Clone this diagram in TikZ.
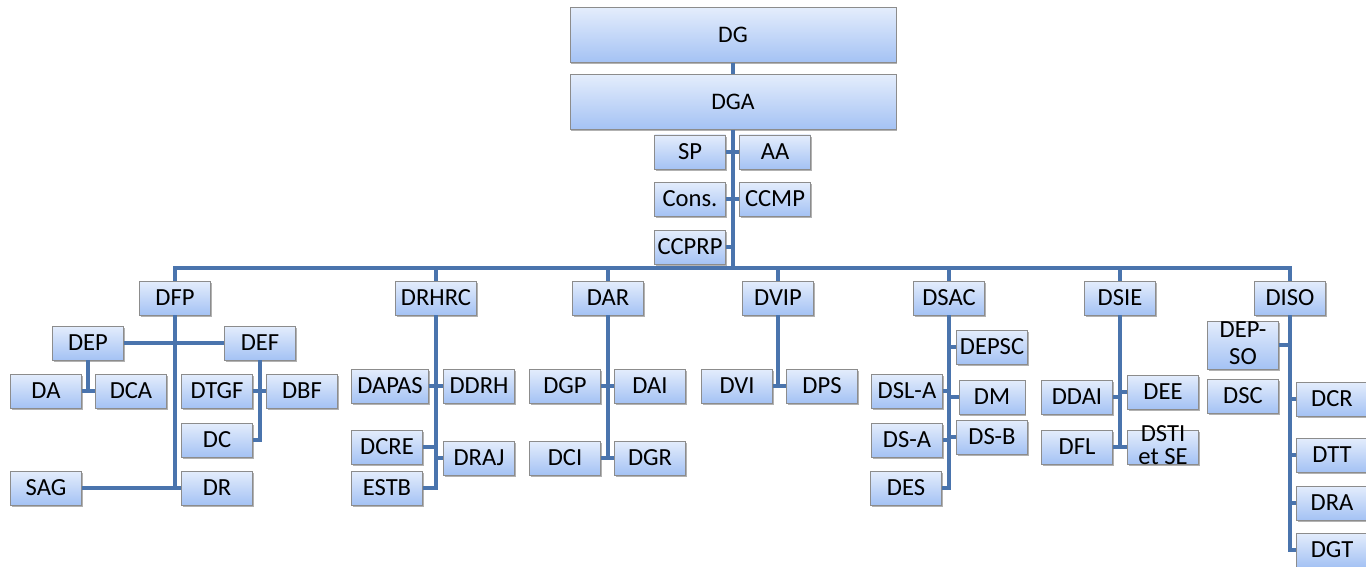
\documentclass[tikz,border=0pt]{standalone}
\usepackage{fontspec}
\setmainfont{Carlito}
\usetikzlibrary{shadows}
\definecolor{linkblue}{RGB}{74,116,173}
\definecolor{boxtop}{RGB}{228,237,252}
\definecolor{boxbot}{RGB}{164,194,244}
\definecolor{boxrim}{RGB}{140,140,140}
\tikzset{
	box/.style={draw=boxrim,line width=0.5pt,top color=boxtop,bottom color=boxbot,
		minimum width=1.42cm,minimum height=0.68cm,inner sep=0pt,
		font=\fontsize{14}{15.5}\selectfont,
		drop shadow={shadow xshift=0.8pt,shadow yshift=-1pt,opacity=0.55,fill=black!55}},
	wide/.style={minimum width=6.52cm,minimum height=1.1cm,font=\fontsize{13.5}{15}\selectfont},
	conn/.style={draw=linkblue,line width=2.3pt,line join=miter}
}

\begin{document}
\begin{tikzpicture}[x=0.02cm,y=-0.02cm]
	\useasboundingbox (0,0) rectangle (1366,567);

	\node[box,wide] at (733,35)(dg){DG};
	\node[box,wide] at (733,102)(dga){DGA};
	\node[box] at (690,152)(sp){SP};
	\node[box] at (775,152)(aa){AA};
	\node[box] at (690,199)(cons){Cons.};
	\node[box] at (775,199)(ccmp){CCMP};
	\node[box] at (690,247)(ccprp){CCPRP};
	\coordinate (bus) at (733,268);

	\node[box] at (175,298)(dfp){DFP};
	\node[box,minimum width=1.62cm] at (436,298)(drhrc){DRHRC};
	\node[box] at (608,298)(dar){DAR};
	\node[box] at (778,298)(dvip){DVIP};
	\node[box] at (949,298)(dsac){DSAC};
	\node[box] at (1120,298)(dsie){DSIE};
	\node[box] at (1290,298)(diso){DISO};

	\node[box] at (88,343)(dep){DEP};
	\node[box] at (260,343)(def){DEF};
	\node[box] at (46,391)(da){DA};
	\node[box] at (131,391)(dca){DCA};
	\node[box] at (217,391)(dtgf){DTGF};
	\node[box] at (302,391)(dbf){DBF};
	\node[box] at (217,440)(dc){DC};
	\node[box] at (46,488)(sag){SAG};
	\node[box] at (217,488)(dr){DR};

	\node[box,minimum width=1.54cm] at (390,386)(dapas){DAPAS};
	\node[box] at (479,386)(ddrh){DDRH};
	\node[box] at (387,447)(dcre){DCRE};
	\node[box] at (479,458)(draj){DRAJ};
	\node[box] at (387,488)(estb){ESTB};

	\node[box] at (565,386)(dgp){DGP};
	\node[box] at (650,386)(dai){DAI};
	\node[box] at (565,458)(dci){DCI};
	\node[box] at (650,458)(dgr){DGR};

	\node[box] at (737,386)(dvi){DVI};
	\node[box] at (822,386)(dps){DPS};

	\node[box] at (992,347)(depsc){DEPSC};
	\node[box] at (907,391)(dsla){DSL-A};
	\node[box,minimum width=1.32cm] at (992,397)(dm){DM};
	\node[box] at (907,440)(dsa){DS-A};
	\node[box] at (992,437)(dsb){DS-B};
	\node[box] at (906,488)(des){DES};

	\node[box] at (1077,397)(ddai){DDAI};
	\node[box] at (1163,392)(dee){DEE};
	\node[box] at (1077,447)(dfl){DFL};
	\node[box] at (1163,447)(dsti){\smash{\raisebox{-4pt}{\begin{tabular}[c]{@{}c@{}}DSTI\\[-2.5pt]et SE\end{tabular}}}};

	\node[box,minimum height=0.96cm] at (1243,345)(depso){\smash{\raisebox{-4pt}{\begin{tabular}[c]{@{}c@{}}DEP-\\SO\end{tabular}}}};
	\node[box] at (1243,396)(dsc){DSC};
	\node[box] at (1332,399)(dcr){DCR};
	\node[box] at (1332,455)(dtt){DTT};
	\node[box] at (1332,503)(dra){DRA};
	\node[box] at (1332,550)(dgt){DGT};

	\path[conn] (dg)--(dga) (dga.south)--(bus)
		(sp.east)--(aa.west) (cons.east)--(ccmp.west) (ccprp.east)--(ccprp.east-|bus);
	\path[conn] (dfp.north)--(dfp|-bus)--(diso|-bus)--(diso.north)
		(drhrc.north)--(drhrc|-bus) (dar.north)--(dar|-bus) (dvip.north)--(dvip|-bus)
		(dsac.north)--(dsac|-bus) (dsie.north)--(dsie|-bus);

	\path[conn] (dfp.south)--(dfp|-sag) (sag.east)--(dr.west) (dep.east)--(def.west)
		(dep.south)--(dep|-da) (da.east)--(dca.west)
		(def.south)--(def|-dc)--(dc.east) (dtgf.east)--(dbf.west);
	\path[conn] (drhrc.south)--(drhrc|-estb)--(estb.east) (dapas.east)--(ddrh.west)
		(dcre.east)--(dcre-|drhrc) (draj.west)--(draj-|drhrc);
	\path[conn] (dar.south)--(dar|-dci) (dgp.east)--(dai.west) (dci.east)--(dgr.west);
	\path[conn] (dvip.south)--(dvip|-dvi) (dvi.east)--(dps.west);
	\path[conn] (dsac.south)--(dsac|-des)--(des.east) (depsc.west)--(depsc-|dsac)
		(dsla.east)--(dsla-|dsac) (dm.west)--(dm-|dsac)
		(dsa.east)--(dsa-|dsac) (dsb.west)--(dsb-|dsac);
	\path[conn] (dsie.south)--(dsie|-dfl) (ddai.east)--(ddai-|dsie)
		(dee.west)--(dee-|dsie) (dfl.east)--(dsti.west);
	\path[conn] (diso.south)--(diso|-dgt)--(dgt.west) (depso.east)--(depso-|diso)
		(dcr.west)--(dcr-|diso) (dtt.west)--(dtt-|diso) (dra.west)--(dra-|diso);
\end{tikzpicture}
\end{document}
